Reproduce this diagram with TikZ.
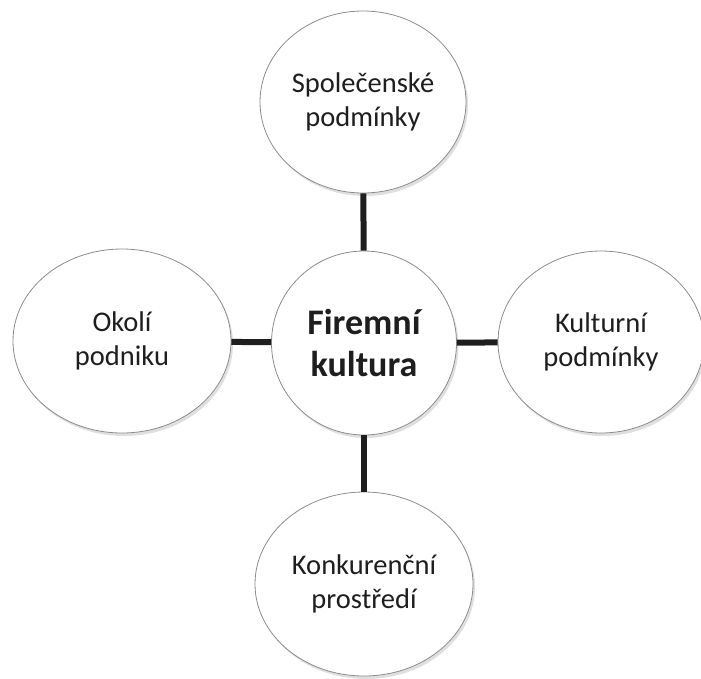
\documentclass[tikz,border=0pt]{standalone}
\usepackage{fontspec}
\setmainfont{Carlito}
\usetikzlibrary{shapes.geometric,shadows}
\definecolor{rim}{HTML}{8C8C8C}
\definecolor{ink}{HTML}{1E1E1E}
\tikzset{
  onode/.style={ellipse,draw=rim,fill=white,text=ink,line width=0.8pt,
    minimum width=206pt,minimum height=182pt,inner sep=0pt,align=center,
    font=\fontsize{28.5}{34}\selectfont,
    drop shadow={shadow xshift=2pt,shadow yshift=-3pt,opacity=0.25}},
  wnode/.style={onode,minimum width=218pt,minimum height=184pt},
  cnode/.style={onode,minimum width=185pt,minimum height=184pt,
    font=\fontsize{36}{42}\selectfont\bfseries},
  link/.style={line width=6pt,color=ink},
}
\begin{document}
\begin{tikzpicture}[x=1pt,y=-1pt]
  \useasboundingbox (0,0) rectangle (701,678);

  \node[cnode] (core)   at (364,343) {Firemní\\kultura};
  \node[onode] (social) at (363,102) {Společenské\\podmínky};
  \node[wnode] (around) at (122,341) {Okolí\\podniku};
  \node[onode] (cult)   at (601,342) {Kulturní\\podmínky};
  \node[wnode] (rival)  at (364,584) {Konkurenční\\prostředí};

  \draw[link] (social) -- (core);
  \draw[link] (around) -- (core);
  \draw[link] (core) -- (cult);
  \draw[link] (core) -- (rival);
\end{tikzpicture}
\end{document}
